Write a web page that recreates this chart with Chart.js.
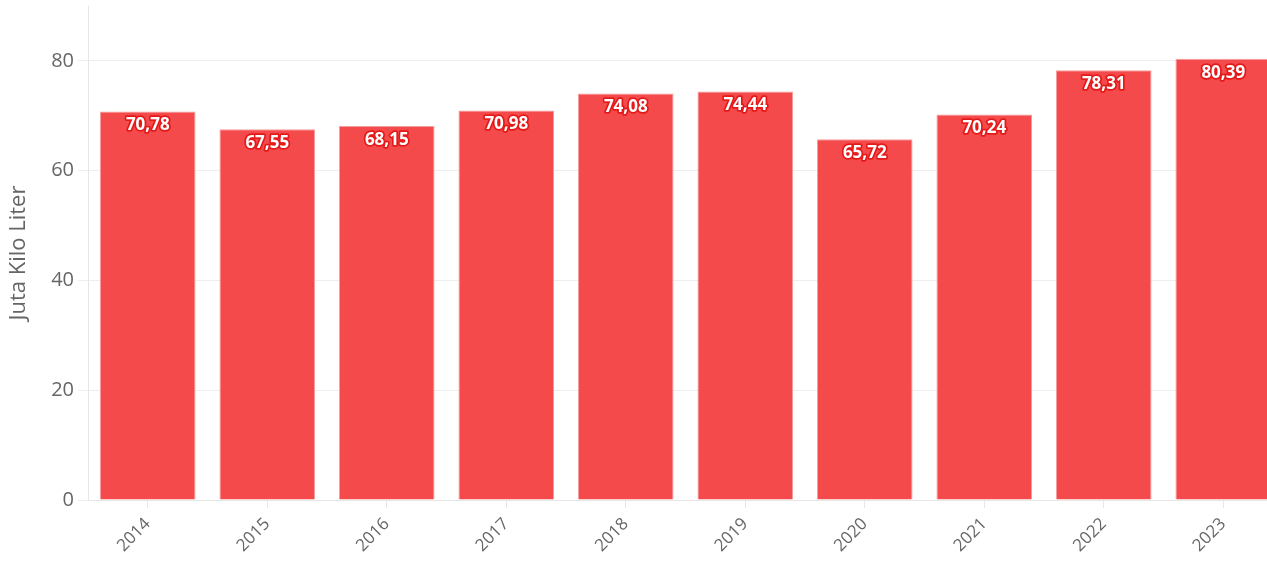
<!DOCTYPE html>
<html>
<head>
<meta charset="utf-8">
<script src="https://cdn.jsdelivr.net/npm/chart.js@4/dist/chart.umd.min.js"></script>
<style>
  html, body { margin: 0; padding: 0; background: #fff; overflow: hidden; }
  #wrap { width: 1290px; height: 561px; }
</style>
</head>
<body>
<div id="wrap"><canvas id="chart"></canvas></div>
<script>
const years = ['2014', '2015', '2016', '2017', '2018', '2019', '2020', '2021', '2022', '2023'];
const volumes = [70.78, 67.55, 68.15, 70.98, 74.08, 74.44, 65.72, 70.24, 78.31, 80.39];
const yTicks = [0, 20, 40, 60, 80];

// label putih di dalam batang, dengan garis tepi merah
const barLabels = {
  id: 'barLabels',
  afterDatasetsDraw(chart) {
    const ctx = chart.ctx;
    const meta = chart.getDatasetMeta(0);
    ctx.save();
    ctx.font = 'bold 17px "Open Sans"';
    ctx.textAlign = 'center';
    ctx.textBaseline = 'middle';
    ctx.lineJoin = 'round';
    meta.data.forEach((bar, i) => {
      const txt = volumes[i].toFixed(2).replace('.', ',');
      ctx.lineWidth = 3.5;
      ctx.strokeStyle = '#e41a1a';
      ctx.strokeText(txt, bar.x, bar.y + 14);
      ctx.fillStyle = '#ffffff';
      ctx.fillText(txt, bar.x, bar.y + 14);
    });
    ctx.restore();
  }
};

new Chart(document.getElementById('chart'), {
  type: 'bar',
  data: {
    labels: years,
    datasets: [{
      data: volumes,
      backgroundColor: '#f44a4b',
      borderColor: '#f79c9c',
      borderWidth: 1,
      barPercentage: 0.8,
      categoryPercentage: 1.0
    }]
  },
  options: {
    responsive: true,
    maintainAspectRatio: false,
    animation: false,
    layout: { padding: { top: 6, left: 6, right: 7, bottom: 0 } },
    plugins: {
      legend: { display: false },
      tooltip: { enabled: false }
    },
    scales: {
      x: {
        afterFit(scale) {
          scale.height = 61;
          scale.paddingLeft = 0;
          scale.paddingRight = 0;
        },
        grid: { display: true, drawOnChartArea: false, offset: false, color: '#e6e6e6', tickLength: 8 },
        border: { color: '#e6e6e6' },
        ticks: {
          color: '#666',
          font: { family: 'Open Sans', size: 17 },
          minRotation: 45,
          maxRotation: 45,
          padding: 6
        }
      },
      y: {
        min: 0,
        max: 90,
        afterBuildTicks(scale) {
          scale.ticks = yTicks.map(v => ({ value: v }));
        },
        afterFit(scale) {
          scale.width = 82;
          scale.paddingTop = 0;
          scale.paddingBottom = 0;
        },
        grid: { color: '#eeeeee', tickLength: 10 },
        border: { color: '#e6e6e6' },
        ticks: {
          color: '#666',
          font: { family: 'Open Sans', size: 20 },
          padding: 4
        },
        title: {
          display: true,
          text: 'Juta Kilo Liter',
          color: '#666',
          font: { family: 'Open Sans', size: 22 },
          padding: { top: 0, bottom: 0 }
        }
      }
    }
  },
  plugins: [barLabels]
});
</script>
</body>
</html>
